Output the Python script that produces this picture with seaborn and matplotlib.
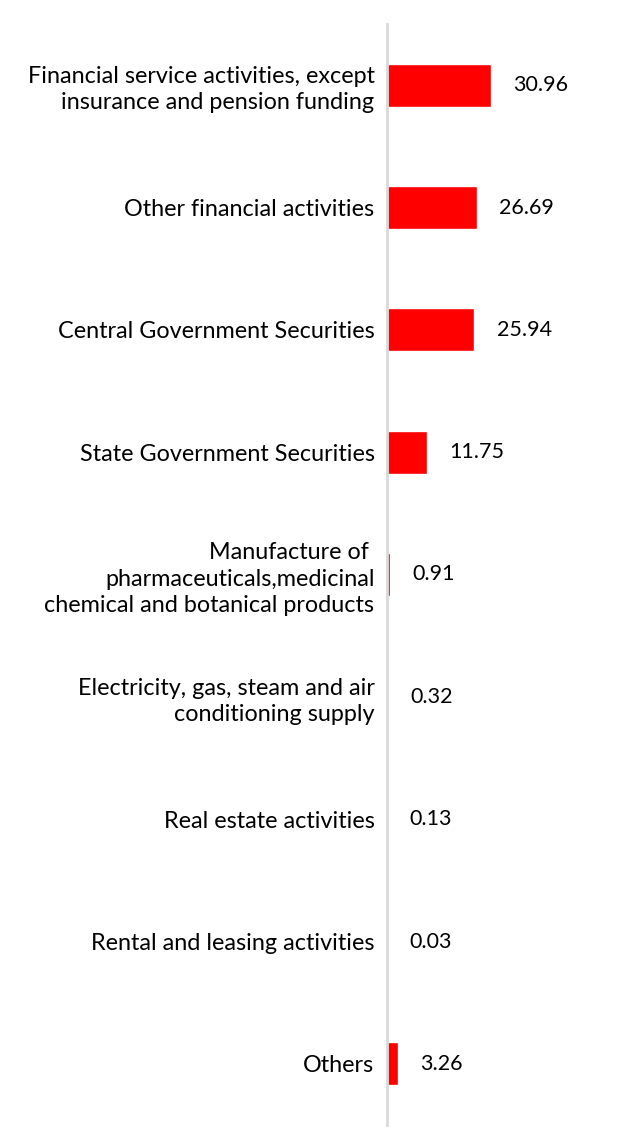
import pandas as pd
import seaborn as sns
import matplotlib.pyplot as plt

# data
sectors = [
    "Financial service activities, except\ninsurance and pension funding",
    "Other financial activities",
    "Central Government Securities",
    "State Government Securities",
    "Manufacture of \npharmaceuticals,medicinal\nchemical and botanical products",
    "Electricity, gas, steam and air\nconditioning supply",
    "Real estate activities",
    "Rental and leasing activities",
    "Others",
]
shares = [30.96, 26.69, 25.94, 11.75, 0.91, 0.32, 0.13, 0.03, 3.26]

df = pd.DataFrame({"sector": sectors, "share": shares})

sns.set_theme(style="white")
plt.rcParams['font.family'] = ['Lato', 'DejaVu Sans']
plt.rcParams['text.color'] = 'black'
plt.rcParams['ytick.color'] = 'black'

fig = plt.figure(figsize=(6.34, 11.48), dpi=100)
ax = fig.add_axes([387 / 634, 1 - 1125 / 1148, 1 - 387 / 634, 1101 / 1148])

sns.barplot(data=df, x="share", y="sector", color="#ff0000", width=0.35,
            saturation=1, ax=ax, orient="h")

ax.set_xlim(0, 73.3)
ax.set_xlabel("")
ax.set_ylabel("")
ax.set_xticks([])
ax.tick_params(axis="y", length=0, pad=9, labelsize=16.8, labelcolor="black")
for lbl in ax.get_yticklabels():
    lbl.set_linespacing(1.3)

for s in ["top", "right", "bottom"]:
    ax.spines[s].set_visible(False)
ax.spines["left"].set_color("#d9d9d9")
ax.spines["left"].set_linewidth(2)

# value labels to the right of each bar
for i, v in enumerate(shares):
    ax.annotate(f"{v:.2f}", (v, i), xytext=(16, 0), textcoords="offset points",
                ha="left", va="center", fontsize=15.5, color="black")

fig.savefig("out.png", dpi=100)
